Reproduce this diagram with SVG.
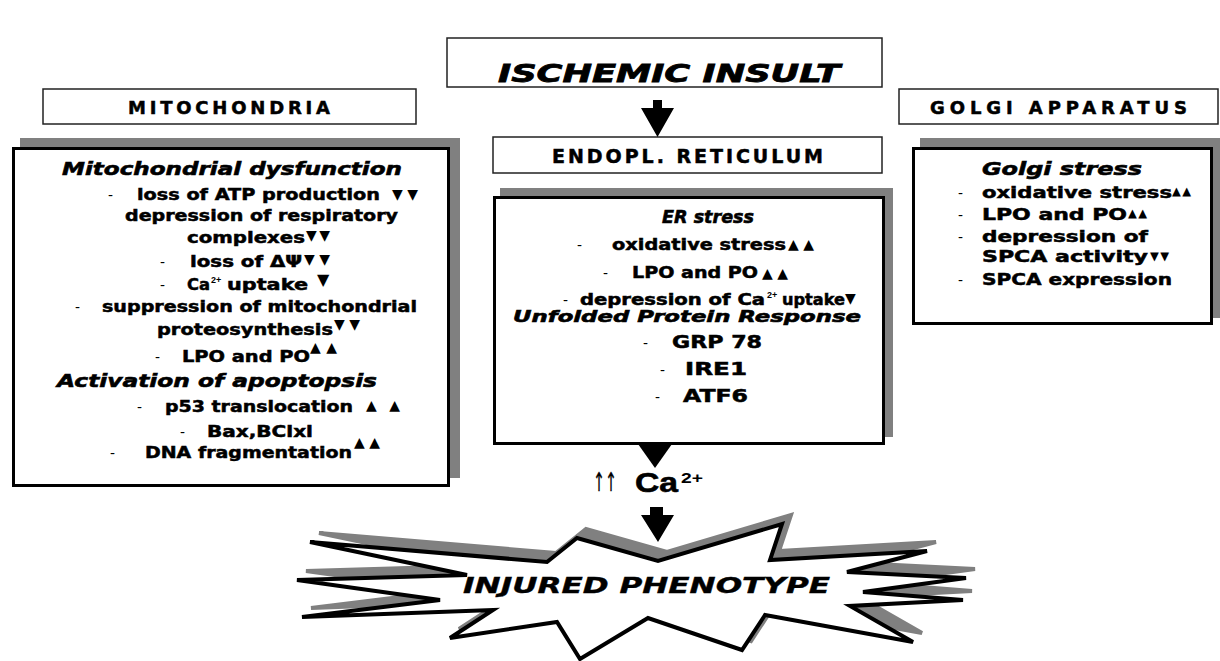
<svg xmlns="http://www.w3.org/2000/svg" width="1220" height="661" viewBox="0 0 1220 661">
<style>
.hdr{fill:#fff;stroke:#222;stroke-width:1.5}
.box{fill:#fff;stroke:#000;stroke-width:3}
.shd{fill:#808080}
.b{font-family:"DejaVu Sans","Liberation Sans",sans-serif;font-weight:bold;font-size:16px;fill:#000;stroke:#000;stroke-width:0.5}
.ti{font-family:"DejaVu Sans","Liberation Sans",sans-serif;font-weight:bold;font-style:italic;font-size:18px;fill:#000;stroke:#000;stroke-width:0.6}
.hd{font-family:"DejaVu Sans","Liberation Sans",sans-serif;font-weight:bold;font-size:18px;fill:#000;stroke:#000;stroke-width:0.5}
.d{font-family:"Liberation Sans",sans-serif;font-size:15px;fill:#000}
.tr{font-family:"DejaVu Sans",sans-serif;font-size:14px;fill:#000}
.sup{font-family:"Liberation Sans",sans-serif;font-weight:bold;font-size:9px;fill:#000}
</style>

<g id="ischemic-insult">
<rect class="hdr" x="447" y="38" width="435" height="49"/>
<text x="498" y="82" textLength="342" lengthAdjust="spacingAndGlyphs" style="font-family:'DejaVu Sans','Liberation Sans',sans-serif;font-weight:bold;font-style:italic;font-size:25px;stroke:#000;stroke-width:0.8">ISCHEMIC INSULT</text>
</g>

<g id="mitochondria-header">
<rect class="hdr" x="43" y="89" width="373" height="35"/>
<text class="hd" x="128" y="114" textLength="202">MITOCHONDRIA</text>
</g>

<g id="golgi-header">
<rect class="hdr" x="899" y="89" width="319" height="35"/>
<text class="hd" x="930" y="114" textLength="257">GOLGI APPARATUS</text>
</g>

<g id="er-header">
<rect class="hdr" x="493" y="137" width="389" height="36"/>
<text class="hd" x="552" y="163" textLength="271" style="font-size:19px">ENDOPL. RETICULUM</text>
</g>

<g id="mitochondria-box">
<rect class="shd" x="20" y="138" width="440" height="340"/>
<rect class="box" x="13.5" y="148.5" width="435" height="337"/>
<text class="ti" x="62" y="175" textLength="340" lengthAdjust="spacingAndGlyphs">Mitochondrial dysfunction</text>
<text class="d" x="108" y="200">-</text>
<text class="b" x="137" y="200" textLength="243" lengthAdjust="spacingAndGlyphs">loss of ATP production</text>
<text class="tr" x="392" y="199" textLength="26">▼▼</text>
<text class="b" x="125" y="221" textLength="273" lengthAdjust="spacingAndGlyphs">depression of respiratory</text>
<text class="b" x="187" y="243" textLength="118" lengthAdjust="spacingAndGlyphs">complexes</text>
<text class="tr" x="306" y="240" textLength="24">▼▼</text>
<text class="d" x="160" y="267">-</text>
<text class="b" x="190" y="267" textLength="112" lengthAdjust="spacingAndGlyphs">loss of ΔΨ</text>
<text class="tr" x="304" y="264" textLength="26">▼▼</text>
<text class="d" x="160" y="290">-</text>
<text class="b" x="187" y="290" textLength="23" lengthAdjust="spacingAndGlyphs">Ca</text>
<text class="sup" x="211" y="283">2+</text>
<text class="b" x="227" y="290" textLength="81" lengthAdjust="spacingAndGlyphs">uptake</text>
<text class="tr" x="317" y="285" style="font-size:16px">▼</text>
<text class="d" x="75" y="312">-</text>
<text class="b" x="102" y="312" textLength="315" lengthAdjust="spacingAndGlyphs">suppression of mitochondrial</text>
<text class="b" x="157" y="335" textLength="176" lengthAdjust="spacingAndGlyphs">proteosynthesis</text>
<text class="tr" x="334" y="329" textLength="26">▼▼</text>
<text class="tr" x="310" y="352" textLength="27">▲▲</text>
<text class="d" x="155" y="362">-</text>
<text class="b" x="182" y="362" textLength="128" lengthAdjust="spacingAndGlyphs">LPO and PO</text>
<text class="ti" x="57" y="387" textLength="320" lengthAdjust="spacingAndGlyphs">Activation of apoptopsis</text>
<text class="d" x="137" y="412">-</text>
<text class="b" x="165" y="412" textLength="188" lengthAdjust="spacingAndGlyphs">p53 translocation</text>
<text class="tr" x="366" y="410" textLength="34">▲▲</text>
<text class="d" x="180" y="437">-</text>
<text class="b" x="207" y="437" textLength="106" lengthAdjust="spacingAndGlyphs">Bax,BClxl</text>
<text class="tr" x="354" y="447" textLength="26">▲▲</text>
<text class="d" x="110" y="458">-</text>
<text class="b" x="145" y="458" textLength="207" lengthAdjust="spacingAndGlyphs">DNA fragmentation</text>
</g>

<g id="er-box">
<rect class="shd" x="500" y="188" width="393" height="249"/>
<rect class="box" x="494.5" y="197.5" width="389" height="246"/>
<text class="ti" x="662" y="223" textLength="92" lengthAdjust="spacingAndGlyphs" style="font-size:18px">ER stress</text>
<text class="d" x="577" y="250">-</text>
<text class="b" x="612" y="250" textLength="174" lengthAdjust="spacingAndGlyphs">oxidative stress</text>
<text class="tr" x="788" y="249" textLength="26">▲▲</text>
<text class="d" x="603" y="278">-</text>
<text class="b" x="632" y="278" textLength="126" lengthAdjust="spacingAndGlyphs">LPO and PO</text>
<text class="tr" x="762" y="278" textLength="26">▲▲</text>
<text class="d" x="563" y="305">-</text>
<text class="b" x="580" y="305" textLength="185" lengthAdjust="spacingAndGlyphs" style="font-size:15px">depression of Ca</text>
<text class="sup" x="767" y="298">2+</text>
<text class="b" x="782" y="305" textLength="63" lengthAdjust="spacingAndGlyphs" style="font-size:15px">uptake</text>
<text class="tr" x="845" y="303" style="font-size:14px">▼</text>
<text class="ti" x="513" y="322" textLength="348" lengthAdjust="spacingAndGlyphs" style="font-size:16px">Unfolded Protein Response</text>
<text class="d" x="643" y="348">-</text>
<text class="b" x="672" y="348" textLength="90" lengthAdjust="spacingAndGlyphs" style="font-size:17px">GRP 78</text>
<text class="d" x="660" y="375">-</text>
<text class="b" x="685" y="375" textLength="62" lengthAdjust="spacingAndGlyphs" style="font-size:17px">IRE1</text>
<text class="d" x="655" y="402">-</text>
<text class="b" x="683" y="402" textLength="65" lengthAdjust="spacingAndGlyphs" style="font-size:17px">ATF6</text>
</g>

<g id="golgi-box">
<rect class="shd" x="920" y="138" width="300" height="180"/>
<rect class="box" x="913.5" y="148.5" width="298" height="175"/>
<text class="ti" x="982" y="175" textLength="160" lengthAdjust="spacingAndGlyphs">Golgi stress</text>
<text class="d" x="958" y="198">-</text>
<text class="b" x="982" y="198" textLength="190" lengthAdjust="spacingAndGlyphs">oxidative stress</text>
<text class="tr" x="1172" y="195" textLength="19" style="font-size:11.5px">▲▲</text>
<text class="d" x="958" y="220">-</text>
<text class="b" x="982" y="220" textLength="145" lengthAdjust="spacingAndGlyphs">LPO and PO</text>
<text class="tr" x="1128" y="217" textLength="19" style="font-size:11.5px">▲▲</text>
<text class="d" x="958" y="242">-</text>
<text class="b" x="982" y="242" textLength="166" lengthAdjust="spacingAndGlyphs">depression of</text>
<text class="b" x="982" y="262" textLength="166" lengthAdjust="spacingAndGlyphs">SPCA activity</text>
<text class="tr" x="1150" y="260" textLength="19" style="font-size:11.5px">▼▼</text>
<text class="d" x="958" y="285">-</text>
<text class="b" x="982" y="285" textLength="190" lengthAdjust="spacingAndGlyphs">SPCA expression</text>
</g>

<g id="connectors">
<polygon points="653,100 662,100 662,108 674,108 657.5,137 641,108 653,108" fill="#000"/>
<polygon points="638,444 672,444 655,468" fill="#000"/>
<polygon points="650,507 663,507 663,515 674,515 658,542 641,515 650,515" fill="#000"/>
</g>

<g id="ca-label">
<text x="593" y="491" textLength="24" lengthAdjust="spacingAndGlyphs" style="font-family:'DejaVu Sans',sans-serif;font-size:26px;fill:#000;stroke:#000;stroke-width:0.3">↑↑</text>
<text x="635" y="492" textLength="43" lengthAdjust="spacingAndGlyphs" style="font-family:'Liberation Sans',sans-serif;font-weight:bold;font-size:28px;stroke:#000;stroke-width:0.6">Ca</text>
<text x="681" y="483" textLength="22" lengthAdjust="spacingAndGlyphs" style="font-family:'Liberation Sans',sans-serif;font-weight:bold;font-size:15px">2+</text>
</g>

<g id="injured-phenotype">
<polygon transform="translate(9,-9)" fill="#808080" stroke="#808080" stroke-width="4" stroke-linejoin="miter" points="310,542 547,562 577,538 658,561 782,524 770,560 927,551 847,572 966,578 863,592 963,600 850,606 913,642 765,615 742,650 648,618 580,659 557,622 450,638 493,610 302,617 440,600 297,580 467,575"/>
<polygon fill="#fff" stroke="#000" stroke-width="4" stroke-linejoin="miter" points="310,542 547,562 577,538 658,561 782,524 770,560 927,551 847,572 966,578 863,592 963,600 850,606 913,642 765,615 742,650 648,618 580,659 557,622 450,638 493,610 302,617 440,600 297,580 467,575"/>
<text x="463" y="593" textLength="367" lengthAdjust="spacingAndGlyphs" style="font-family:'DejaVu Sans','Liberation Sans',sans-serif;font-weight:bold;font-style:italic;font-size:22px;stroke:#000;stroke-width:0.4">INJURED PHENOTYPE</text>
</g>
</svg>
